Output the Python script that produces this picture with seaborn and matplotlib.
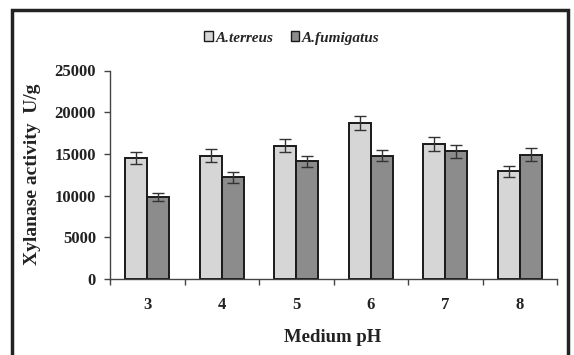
import matplotlib
matplotlib.use("Agg")
import matplotlib.pyplot as plt
from matplotlib.patches import Rectangle, Patch
import seaborn as sns
import pandas as pd
import numpy as np

# Xylanase activity (U/g) of two Aspergillus strains across medium pH
ph_levels = ["3", "4", "5", "6", "7", "8"]
terreus_mean = [14500, 14800, 16000, 18700, 16200, 12900]
terreus_err = [700, 750, 750, 850, 800, 700]
fumigatus_mean = [9800, 12200, 14100, 14800, 15300, 14900]
fumigatus_err = [500, 650, 700, 700, 800, 750]
strains = ["A.terreus", "A.fumigatus"]
y_ticks = [0, 5000, 10000, 15000, 20000, 25000]

df = pd.DataFrame({
    "pH": ph_levels * 2,
    "activity": terreus_mean + fumigatus_mean,
    "err": terreus_err + fumigatus_err,
    "strain": [strains[0]] * len(ph_levels) + [strains[1]] * len(ph_levels),
})

sns.set_theme(style="white")
plt.rcParams["font.family"] = ["Liberation Serif", "DejaVu Serif"]

fig = plt.figure(figsize=(5.74, 3.55), dpi=100)
ax = fig.add_axes([110 / 574, 1 - 279 / 355, (557 - 110) / 574, (279 - 70.5) / 355])

colors = {"A.terreus": "#d6d6d6", "A.fumigatus": "#8c8c8c"}
sns.barplot(data=df, x="pH", y="activity", hue="strain", order=ph_levels,
            hue_order=strains, palette=colors, width=0.59, errorbar=None,
            edgecolor="#1a1a1a", linewidth=1.4, legend=False, ax=ax)

# error bars placed at the centres of the drawn bars
for container, strain in zip(ax.containers, strains):
    sub = df[df["strain"] == strain].set_index("pH").loc[ph_levels]
    xs = [p.get_x() + p.get_width() / 2 for p in container.patches]
    ax.errorbar(xs, sub["activity"].values, yerr=sub["err"].values, fmt="none",
                ecolor="#333333", elinewidth=1.0, capsize=4, capthick=1.0, zorder=5)

ax.set_ylim(0, 25000)
ax.set_xlim(-0.5, len(ph_levels) - 0.5)
ax.set_yticks(y_ticks)
ax.set_yticklabels([str(v) for v in y_ticks], fontsize=12, fontweight="bold", color="#222222")
ax.set_xticks(range(len(ph_levels)))
ax.set_xticklabels(ph_levels, fontsize=12, fontweight="bold", color="#222222")
ax.tick_params(axis="x", length=0, pad=13)
ax.tick_params(axis="y", length=4, width=1, color="#444444", direction="out", pad=6, left=True)

# tick marks between categories along the x axis
ax.set_xticks(np.arange(-0.5, len(ph_levels)), minor=True)
ax.tick_params(axis="x", which="minor", length=4, width=1, color="#444444", direction="out", bottom=True)

for side in ["top", "right"]:
    ax.spines[side].set_visible(False)
for side in ["left", "bottom"]:
    ax.spines[side].set_color("#444444")
    ax.spines[side].set_linewidth(1.0)

ax.set_xlabel("")
ax.set_ylabel("")
fig.text(333 / 574, 1 - 337 / 355, "Medium pH", ha="center", va="center",
         fontsize=13.5, fontweight="bold", color="#222222")
fig.text(33 / 574, 1 - 174 / 355, "Xylanase activity  U/g", ha="center", va="center",
         rotation=90, fontsize=14, fontweight="bold", color="#222222")

handles = [Patch(facecolor=colors[s], edgecolor="#1a1a1a", linewidth=1.0, label=s) for s in strains]
fig.legend(handles=handles, loc="center", bbox_to_anchor=(292 / 574, 1 - 38 / 355), ncol=2,
           frameon=False, handlelength=0.55, handleheight=0.55, handletextpad=0.2,
           columnspacing=1.1, prop={"family": "Liberation Serif", "style": "italic",
                                    "weight": "bold", "size": 11})

# outer frame around the figure
fig.patches.append(Rectangle((12 / 574, -0.05), (568 - 12) / 574, 1.05 - 10 / 355,
                             transform=fig.transFigure, fill=False,
                             edgecolor="#222222", linewidth=2.5))

fig.savefig("out.png", dpi=100)
